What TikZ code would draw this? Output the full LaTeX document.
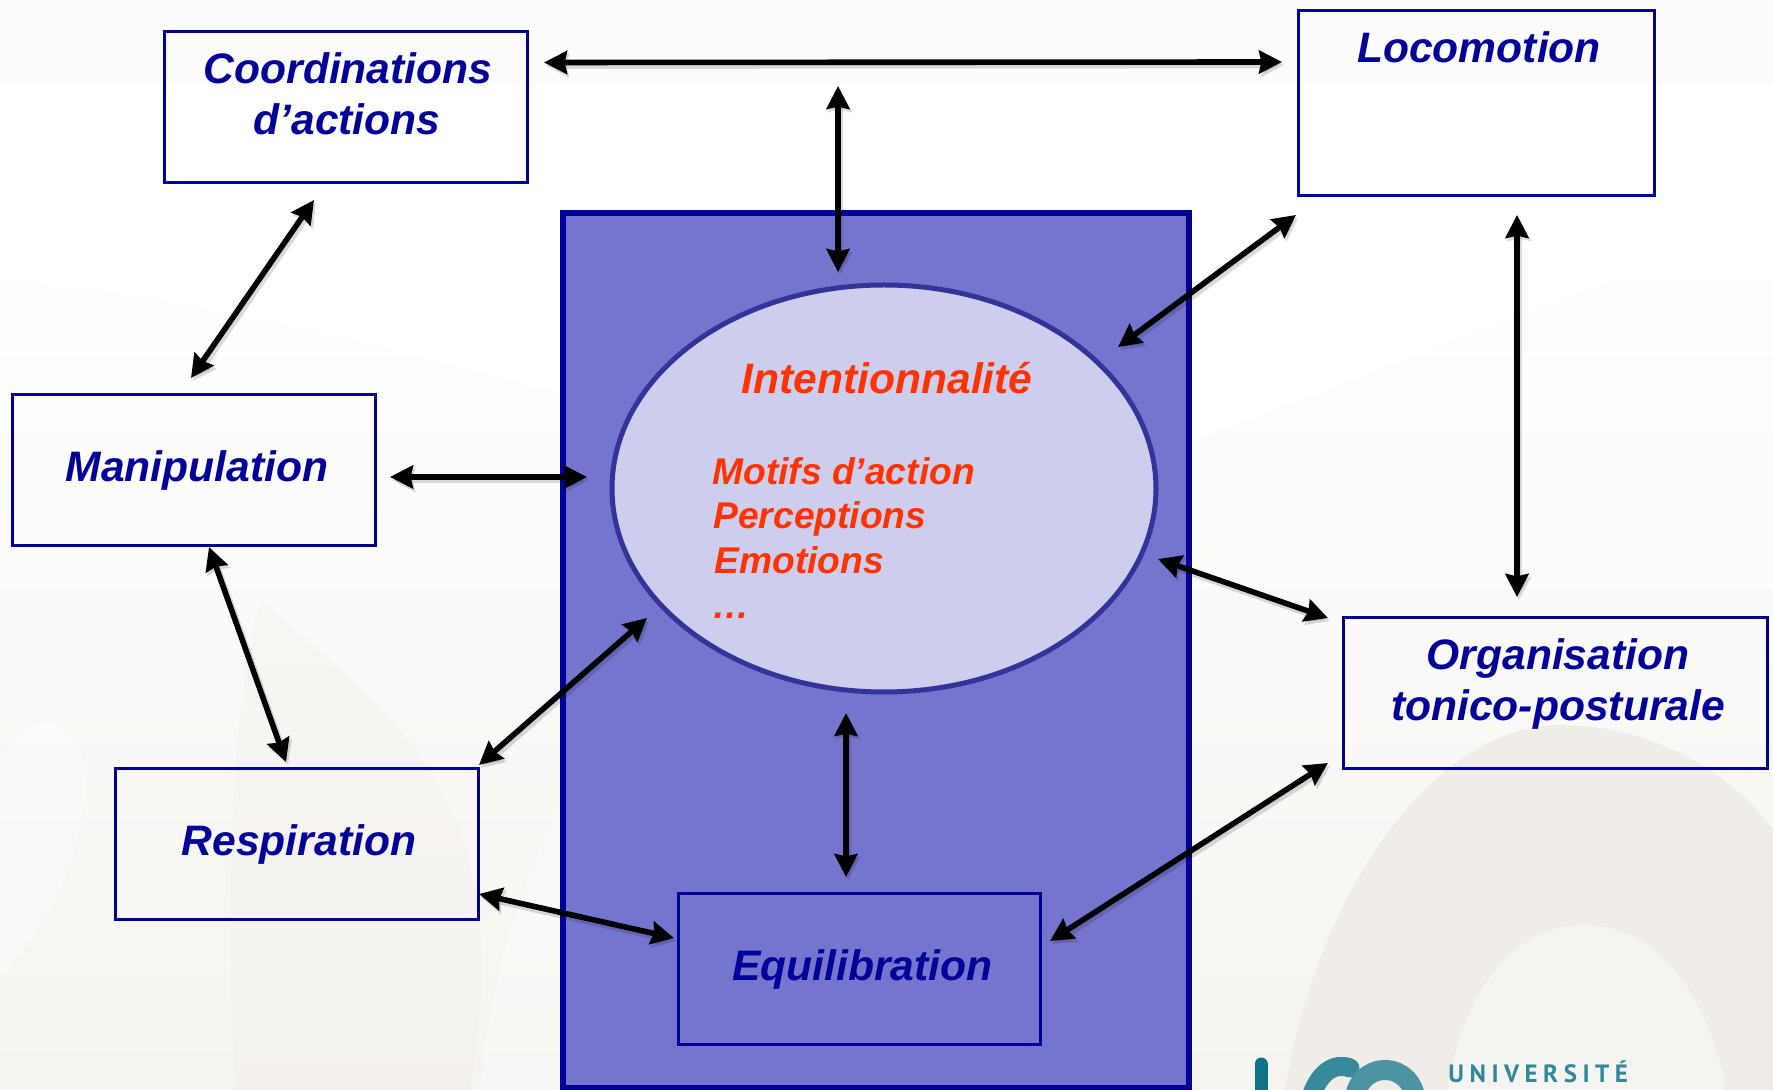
\documentclass[tikz,border=0pt]{standalone}
\usepackage{fontspec}
\setmainfont{Liberation Sans}
\newfontfamily\logofont[LetterSpace=22]{PT Sans}
\usetikzlibrary{arrows.meta,shapes.geometric}
\definecolor{navy}{HTML}{000099}
\definecolor{panel}{HTML}{7575CF}
\definecolor{ellfill}{HTML}{CDCDEE}
\definecolor{ellline}{HTML}{333399}
\definecolor{redtxt}{HTML}{FF3300}
\definecolor{logoA}{HTML}{0F7285}
\definecolor{logoB}{HTML}{388A9B}
\definecolor{logoC}{HTML}{4C93A3}
\definecolor{bgA}{HTML}{F6F4F0}
\definecolor{bgB}{HTML}{F0EDE8}
\tikzset{
  bx/.style={draw=navy,line width=1.5pt,rectangle,inner sep=0pt,outer sep=0pt},
  bluelab/.style={anchor=base,inner sep=0pt,text=navy,font=\fontsize{21.3}{24}\selectfont\bfseries\itshape},
  redbig/.style={anchor=base,inner sep=0pt,text=redtxt,font=\fontsize{21.3}{24}\selectfont\bfseries\itshape},
  redsmall/.style={anchor=base west,inner sep=0pt,text=redtxt,font=\fontsize{18.6}{22}\selectfont\bfseries\itshape},
  arr/.style={line width=2.8pt,draw=black,{Stealth[length=11.5pt,width=11.5pt,inset=1.2pt]}-{Stealth[length=11.5pt,width=11.5pt,inset=1.2pt]}},
  arrshadow/.style={line width=3.4pt,draw=black,draw opacity=0.14,fill opacity=0.14,fill=black,
    transform canvas={xshift=1pt,yshift=-1.5pt},
    {Stealth[length=11.5pt,width=12pt,inset=1.2pt]}-{Stealth[length=11.5pt,width=12pt,inset=1.2pt]}},
  softB/.style={fill=bgB,draw=none},
}
\newcommand{\linkarrow}[2]{%
  \draw[arrshadow] #1 -- #2;
  \draw[arr] #1 -- #2;
}
\begin{document}
\begin{tikzpicture}[x=0.5pt,y=-0.5pt]
\useasboundingbox (0,0) rectangle (1773,1090);
% background
\begin{scope}
\clip (0,0) rectangle (1773,1090);
\fill[white] (0,0) rectangle (1773,1090);
\fill[black!1.2] (0,0) rectangle (1773,85);
\shade[top color=white,bottom color=bgA,draw=none]
  (0,280) .. controls (300,300) and (600,420) .. (1000,500)
  .. controls (1300,420) and (1600,260) .. (1773,240)
  -- (1773,1090) -- (0,1090) -- cycle;
\fill[bgB,opacity=.3] (235,1090) .. controls (225,900) and (230,720) .. (260,600)
  .. controls (400,720) and (520,800) .. (470,1090) -- cycle;
\fill[white,opacity=.35] (0,760) .. controls (40,690) and (90,720) .. (85,800)
  .. controls (70,900) and (30,940) .. (0,980) -- cycle;
\fill[white,opacity=.35] (480,1090) .. controls (500,900) and (560,780) .. (640,700)
  -- (640,1090) -- cycle;
% right arches
\fill[softB] (1285,1090) .. controls (1320,880) and (1440,725) .. (1560,725)
  .. controls (1650,725) and (1730,770) .. (1773,830) -- (1773,1090) -- cycle;
\fill[bgA] (1448,1090) .. controls (1460,1000) and (1510,925) .. (1583,925)
  .. controls (1660,925) and (1710,1000) .. (1726,1090) -- cycle;
% logo
\draw[logoA,line width=6.5pt,line cap=round] (1261,1064) -- (1261,1100);
\draw[logoB,line width=9.5pt,line cap=round] (1350,1068) .. controls (1335,1062) and (1318,1072) .. (1310,1100);
\draw[logoC,line width=10pt] (1385,1100) circle[radius=30];
\node[anchor=base west,inner sep=0pt,text=logoA!85!white] (univ) at (1448,1082) {\logofont\fontsize{12.5}{14}\selectfont\bfseries UNIVERSITÉ};
\end{scope}
% panel and ellipse
\node[draw=navy,fill=panel,line width=2.8pt,rectangle,inner sep=0pt,outer sep=0pt,
  minimum width=313pt,minimum height=437.5pt] (panel) at (876,650.5) {};
\node[draw=ellline,fill=ellfill,line width=2.5pt,ellipse,inner sep=0pt,outer sep=0pt,
  minimum width=272pt,minimum height=203.5pt] (ell) at (884,488.5) {};
% boxes
\node[bx,minimum width=181.5pt,minimum height=75.5pt] (coord) at (345.5,107) {};
\node[bx,minimum width=178pt,minimum height=92.5pt] (loco) at (1476,103.5) {};
\node[bx,minimum width=181.5pt,minimum height=75.5pt] (manip) at (194,470) {};
\node[bx,minimum width=181.5pt,minimum height=75.5pt] (resp) at (296.5,844) {};
\node[bx,minimum width=181pt,minimum height=75.5pt] (equil) at (859,968.5) {};
\node[bx,minimum width=212pt,minimum height=75.5pt] (org) at (1555,693) {};
% labels
\node[bluelab] (tcoordA) at (348,84) {Coordinations};
\node[bluelab] (tcoordB) at (347,135) {d’actions};
\node[bluelab] (tloco) at (1479,63) {Locomotion};
\node[bluelab] (tmanip) at (197,481.5) {Manipulation};
\node[bluelab] (tresp) at (299,855) {Respiration};
\node[bluelab] (tequil) at (862.5,980) {Equilibration};
\node[bluelab] (torgA) at (1558,669.5) {Organisation};
\node[bluelab] (torgB) at (1558,720) {tonico-posturale};
\node[redbig] (tint) at (887,394) {Intentionnalité};
\node[redsmall] (tmot) at (712,485) {Motifs d’action};
\node[redsmall] (tper) at (713,529) {Perceptions};
\node[redsmall] (temo) at (714,574) {Emotions};
\node[redsmall] (tdot) at (712,619) {…};
% connectors
\coordinate (vtop) at (838,86);
\linkarrow{([shift={(198.5,-44.5)}]coord.center)}{([shift={(-194,-41.5)}]loco.center)}
\linkarrow{(vtop)}{([shift={(-46,-216.5)}]ell.center)}
\linkarrow{([shift={(-31.5,93)}]coord.center)}{([shift={(-3,-92)}]manip.center)}
\linkarrow{([shift={(-180,111.5)}]loco.center)}{([shift={(234,-141.5)}]ell.center)}
\linkarrow{([shift={(41,111.5)}]loco.center)}{([shift={(-38,-96)}]org.center)}
\linkarrow{([shift={(196,7)}]manip.center)}{([shift={(-297,-11.5)}]ell.center)}
\linkarrow{([shift={(15,77)}]manip.center)}{([shift={(-10.5,-82)}]resp.center)}
\linkarrow{([shift={(182.5,-79)}]resp.center)}{([shift={(-237,129.5)}]ell.center)}
\linkarrow{([shift={(274,70.5)}]ell.center)}{([shift={(-227,-75)}]org.center)}
\linkarrow{([shift={(-38,224.5)}]ell.center)}{([shift={(-13,-91.5)}]equil.center)}
\linkarrow{([shift={(182.5,50)}]resp.center)}{([shift={(-185,-30.5)}]equil.center)}
\linkarrow{([shift={(191,-27.5)}]equil.center)}{([shift={(-227,70)}]org.center)}
\end{tikzpicture}
\end{document}
